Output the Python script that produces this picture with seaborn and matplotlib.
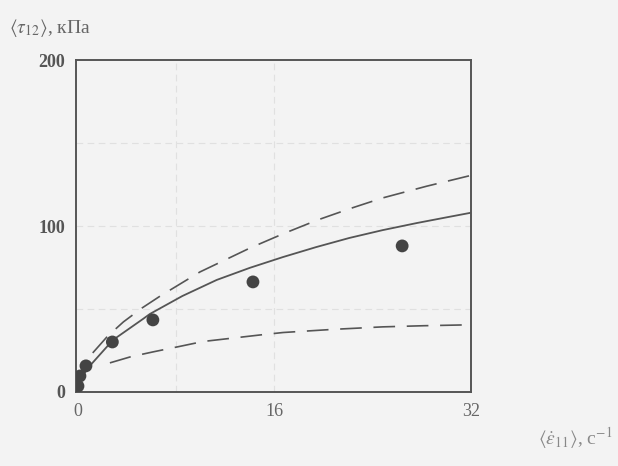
import matplotlib
matplotlib.use("Agg")
import matplotlib.pyplot as plt
import seaborn as sns

# экспериментальные точки
exp_rate = [0.0, 0.16, 0.65, 2.8, 6.1, 14.25, 26.4]
exp_stress = [3.5, 9.6, 15.7, 30.1, 43.4, 66.3, 88.0]

# расчетная кривая (сплошная)
fit_rate = [0.0, 0.2, 1.0, 2.85, 5.3, 5.86, 8.5, 11.3, 14.0, 16.7, 19.4, 22.1, 24.8, 27.6, 30.0, 32.0]
fit_stress = [0.0, 8.0, 16.0, 31.3, 44.0, 47.0, 57.8, 67.5, 74.8, 81.3, 87.3, 92.8, 97.5, 101.8, 105.2, 108.0]

# верхняя граница (штрих)
up_rate = [1.2, 2.4, 3.7, 5.2, 6.7, 9.93, 14.0, 16.8, 19.5, 22.2, 24.8, 28.4, 32.0]
up_stress = [23.5, 33.5, 42.2, 50.5, 57.8, 72.3, 86.7, 95.6, 103.6, 110.6, 116.9, 124.0, 130.5]

# нижняя граница (штрих)
low_rate = [2.6, 4.3, 6.1, 8.2, 10.2, 14.8, 16.7, 20.8, 24.8, 28.2, 31.6]
low_stress = [17.5, 21.2, 24.1, 27.3, 30.4, 34.3, 35.8, 37.7, 39.2, 39.9, 40.4]

x_ticks = [0, 16, 32]
y_ticks = [0, 100, 200]
grid_x = [8, 16]
grid_y = [50, 100, 150]

bg = "#f3f3f3"
ink = "#555555"

sns.set_theme(style="white")
plt.rcParams["font.family"] = ["Liberation Serif", "DejaVu Serif"]
plt.rcParams["mathtext.fontset"] = "stix"

fig = plt.figure(figsize=(6.18, 4.66), dpi=100, facecolor=bg)
ax = fig.add_axes([0.123, 0.159, 0.639, 0.712])
ax.set_facecolor(bg)

# бледная сетка (как на скане)
for gx in grid_x:
    ax.axvline(gx, color="#e0e0e0", lw=0.8, ls=(0, (6, 4)), zorder=0)
for gy in grid_y:
    ax.axhline(gy, color="#e0e0e0", lw=0.8, ls=(0, (6, 4)), zorder=0)

sns.lineplot(x=fit_rate, y=fit_stress, ax=ax, color=ink, lw=1.3, sort=False)
sns.lineplot(x=up_rate, y=up_stress, ax=ax, color=ink, lw=1.2, sort=False,
             linestyle=(0, (13, 7)))
sns.lineplot(x=low_rate, y=low_stress, ax=ax, color=ink, lw=1.2, sort=False,
             linestyle=(0, (13, 7)))
sns.scatterplot(x=exp_rate, y=exp_stress, ax=ax, color="#444444", s=85,
                edgecolor="none", zorder=5)

ax.set_xlim(-0.16, 32)
ax.set_ylim(0, 200)
ax.set_xticks(x_ticks)
ax.set_yticks(y_ticks)
ax.set_xticklabels([str(t) for t in x_ticks], fontsize=13, color="#666666")
ax.set_yticklabels([str(t) for t in y_ticks], fontsize=13, color="#555555",
                   fontweight="bold")
ax.tick_params(length=0, pad=8)
for sp in ax.spines.values():
    sp.set_color(ink)
    sp.set_linewidth(1.4)

fig.text(0.015, 0.94, r"$\langle\tau_{12}\rangle$, кПа", fontsize=14,
         color="#666666", va="center")
fig.text(0.87, 0.06, r"$\langle\dot{\varepsilon}_{11}\rangle$, c$^{-1}$",
         fontsize=14, color="#888888", va="center")

fig.savefig("out.png", dpi=100, facecolor=bg)
